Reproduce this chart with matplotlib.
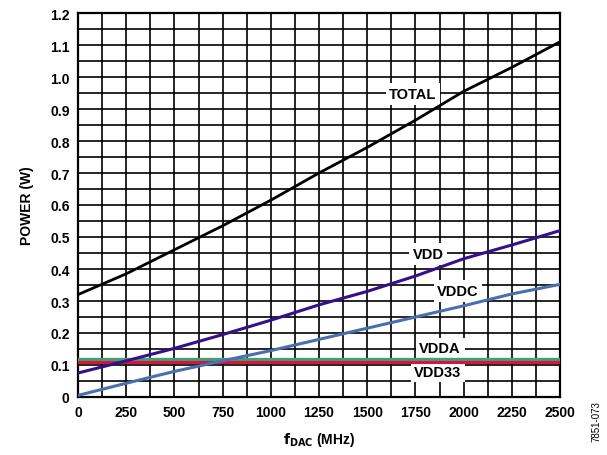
import matplotlib
matplotlib.use("Agg")
import matplotlib.pyplot as plt
from matplotlib.ticker import MultipleLocator

plt.rcParams['font.family'] = ['Liberation Sans', 'DejaVu Sans']

# Datos
f_dac = [0, 250, 500, 750, 1000, 1250, 1500, 1750, 2000, 2250, 2500]
total = [0.32, 0.385, 0.46, 0.535, 0.615, 0.70, 0.78, 0.865, 0.955, 1.03, 1.11]
vdd = [0.075, 0.113, 0.152, 0.195, 0.24, 0.288, 0.33, 0.378, 0.432, 0.475, 0.52]
vddc = [0.005, 0.043, 0.08, 0.113, 0.145, 0.18, 0.215, 0.25, 0.285, 0.322, 0.352]
vdda = [0.12] * len(f_dac)
vdd33 = [0.11] * len(f_dac)

fig = plt.figure(figsize=(6.07, 4.56), dpi=100)
ax = fig.add_axes([78 / 607, 58 / 456, 482 / 607, 384 / 456])

ax.plot(f_dac, vdda, color='#3fa276', linewidth=2.4, zorder=3)
ax.plot(f_dac, vdd33, color='#e0103c', linewidth=2.2, zorder=3)
ax.plot(f_dac, vddc, color='#4a6fae', linewidth=2.2, zorder=3)
ax.plot(f_dac, vdd, color='#35108a', linewidth=2.2, zorder=3)
ax.plot(f_dac, total, color='black', linewidth=2.0, zorder=3)

ax.set_xlim(0, 2500)
ax.set_ylim(0, 1.2)
ax.xaxis.set_major_locator(MultipleLocator(250))
ax.xaxis.set_minor_locator(MultipleLocator(125))
ax.yaxis.set_minor_locator(MultipleLocator(0.05))
ax.set_yticks([0, 0.1, 0.2, 0.3, 0.4, 0.5, 0.6, 0.7, 0.8, 0.9, 1.0, 1.1, 1.2])
ax.set_yticklabels(['0', '0.1', '0.2', '0.3', '0.4', '0.5', '0.6', '0.7',
                    '0.8', '0.9', '1.0', '1.1', '1.2'])
ax.grid(True, which='both', color='black', linewidth=1.2, zorder=1)
ax.set_axisbelow(True)
ax.tick_params(which='both', length=0, labelsize=10, pad=6)
for lbl in ax.get_xticklabels() + ax.get_yticklabels():
    lbl.set_fontweight('bold')
for s in ax.spines.values():
    s.set_linewidth(1.6)

ax.set_xlabel(r'$\mathbf{f_{DAC}}$ (MHz)', fontsize=10, fontweight='bold', labelpad=8)
ax.set_ylabel('POWER (W)', fontsize=10, fontweight='bold', labelpad=12)

box = dict(facecolor='white', edgecolor='none', boxstyle='square,pad=0.25')
etiquetas = [('TOTAL', 1737, 0.947), ('VDD', 1815, 0.447), ('VDDC', 1971, 0.331),
             ('VDDA', 1878, 0.152), ('VDD33', 1867, 0.079)]
for txt, x, y in etiquetas:
    ax.text(x, y, txt, fontsize=10.5, fontweight='bold', ha='center', va='center',
            bbox=box, zorder=2)

fig.text(0.983, 0.03, '7851-073', rotation=90, fontsize=7, ha='center', va='bottom')

plt.savefig('out.png', dpi=100)
